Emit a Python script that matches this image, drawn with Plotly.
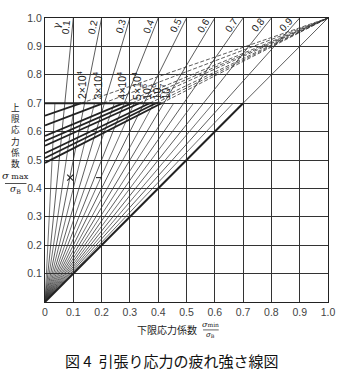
import math
import plotly.graph_objects as go

# ---------------- data ----------------
gamma_main = [0.1, 0.2, 0.3, 0.4, 0.5, 0.6, 0.7, 0.8, 0.9]
gamma_labels = ["0.1", "0.2", "0.3", "0.4", "0.5", "0.6", "0.7", "0.8", "0.9"]
gamma_mid = [0.05, 0.15, 0.25, 0.35, 0.45, 0.55, 0.65, 0.75, 0.85, 0.95]

life_labels = ["2×10<sup>4</sup>", "3×10<sup>4</sup>", "4×10<sup>4</sup>", "5×10<sup>4</sup>",
               "10<sup>5</sup>", "10<sup>6</sup>", "10<sup>7</sup>", ""]
life_intercepts = [0.656, 0.622, 0.585, 0.567, 0.550, 0.524, 0.507, 0.490]
yield_limit = 0.7

mark_x = [0.089]
mark_y = [0.438]
dash_mark_x = [0.19]
dash_mark_y = [0.438]

x_ticks = [0, 0.1, 0.2, 0.3, 0.4, 0.5, 0.6, 0.7, 0.8, 0.9, 1.0]
x_tick_text = ["0", "0.1", "0.2", "0.3", "0.4", "0.5", "0.6", "0.7", "0.8", "0.9", "1.0"]
y_ticks = [0.1, 0.2, 0.3, 0.4, 0.5, 0.6, 0.7, 0.8, 0.9, 1.0]
y_tick_text = ["0.1", "0.2", "0.3", "0.4", "0.5", "0.6", "0.7", "0.8", "0.9", "1.0"]

# label positions (layout only)
life_label_x = [0.129, 0.184, 0.269, 0.323, 0.358, 0.392, 0.424, None]

# ---------------- layout helpers ----------------
L, T, PW, PH = 45, 12, 290, 290
def px(xp):
    return (xp - L) / PW
def py(yp):
    return (T + PH - yp) / PH

INK = "#222222"
THIN = "#333333"
fig = go.Figure()

def line(xs, ys, width=0.8, color=THIN, dash="solid"):
    fig.add_trace(go.Scatter(x=xs, y=ys, mode="lines", hoverinfo="skip",
                             line=dict(color=color, width=width, dash=dash),
                             showlegend=False))

# rays sigma_min / sigma_max = gamma
for g in gamma_main:
    line([0, g], [0, 1.0], 0.8)
for g in gamma_mid:
    line([0, g * yield_limit], [0, yield_limit], 0.7)
# gamma = 1 diagonal
line([0, 1.0], [0, 1.0], 0.8)
line([0, yield_limit], [0, yield_limit], 2.0, INK)

# fatigue lines (solid up to yield limit, dashed to (1,1))
x_ends = []
for a in life_intercepts:
    xe = (yield_limit - a) / (1.0 - a)
    x_ends.append(xe)
    line([0, xe], [a, yield_limit], 1.8, INK)
    line([xe, 1.0], [yield_limit, 1.0], 0.8, THIN, "4px,2px")
line([0, max(x_ends)], [yield_limit, yield_limit], 2.0, INK)

# markers
fig.add_trace(go.Scatter(x=mark_x, y=mark_y, mode="markers", hoverinfo="skip", showlegend=False,
                         marker=dict(symbol="x-thin", size=6, line=dict(color=INK, width=1.1))))
fig.add_trace(go.Scatter(x=dash_mark_x, y=dash_mark_y, mode="markers", hoverinfo="skip", showlegend=False,
                         marker=dict(symbol="line-ew", size=4, line=dict(color=INK, width=1.1))))

ann = []
# gamma labels
for g, t in zip(gamma_main, gamma_labels):
    th = math.atan2(1.0, g)
    ann.append(dict(x=0.965 * g, y=0.965, xref="x", yref="y", text=t, showarrow=False,
                    textangle=-math.degrees(th), xshift=-6.5 * math.sin(th), yshift=5 * math.cos(th),
                    font=dict(size=10, color=INK, family="Liberation Sans, Arial")))
ann.append(dict(x=0.04, y=0.975, xref="x", yref="y", text="γ", showarrow=False, textangle=-75,
                font=dict(size=10, color=INK, family="DejaVu Serif")))

# life labels
for lx, t in zip(life_label_x, life_labels):
    if lx is None or not t:
        continue
    ann.append(dict(x=lx, y=yield_limit + 0.006, xref="x", yref="y", text=t, showarrow=False,
                    textangle=-90, yanchor="bottom", xanchor="center",
                    font=dict(size=10.5, color=INK, family="Liberation Sans, Arial")))

# y-axis title (vertical, one character per line)
ann.append(dict(x=px(15), y=py(131.5), xref="paper", yref="paper",
                text="<br>".join("上限応力係数"), showarrow=False,
                xanchor="center", yanchor="middle",
                font=dict(size=8.6, color=INK, family="Noto Sans CJK JP")))
ann.append(dict(x=px(15), y=py(173), xref="paper", yref="paper",
                text="<i>σ</i><span style='font-size:8px'> max</span>", showarrow=False,
                xanchor="center", yanchor="middle", font=dict(size=10, color=INK, family="DejaVu Serif")))
ann.append(dict(x=px(15), y=py(187), xref="paper", yref="paper",
                text="<i>σ</i><sub>B</sub>", showarrow=False,
                xanchor="center", yanchor="middle", font=dict(size=9, color=INK, family="DejaVu Serif")))

# x-axis title
ann.append(dict(x=px(170), y=py(330), xref="paper", yref="paper", text="下限応力係数",
                showarrow=False, xanchor="center", yanchor="middle",
                font=dict(size=10, color=INK, family="Noto Sans CJK JP")))
ann.append(dict(x=px(215), y=py(325), xref="paper", yref="paper",
                text="<i>σ</i><span style='font-size:6px'>min</span>", showarrow=False,
                xanchor="center", yanchor="middle", font=dict(size=8, color=INK, family="DejaVu Serif")))
ann.append(dict(x=px(215), y=py(336), xref="paper", yref="paper",
                text="<i>σ</i><sub>B</sub>", showarrow=False,
                xanchor="center", yanchor="middle", font=dict(size=7, color=INK, family="DejaVu Serif")))

# caption
ann.append(dict(x=px(175), y=py(362), xref="paper", yref="paper",
                text="図 4  引張り応力の疲れ強さ線図", showarrow=False, xanchor="center", yanchor="middle",
                font=dict(size=15, color="#111", family="Noto Sans CJK JP")))

shapes = [
    dict(type="line", xref="paper", yref="paper", x0=px(4), x1=px(26),
         y0=py(181), y1=py(181), line=dict(color=INK, width=0.8)),
    dict(type="line", xref="paper", yref="paper", x0=px(207), x1=px(223),
         y0=py(330.5), y1=py(330.5), line=dict(color=INK, width=0.7)),
]

axis_common = dict(range=[0, 1], showgrid=True, gridcolor=THIN, gridwidth=0.8, zeroline=False,
                   showline=True, linecolor=INK, linewidth=1.2, mirror=True, ticks="",
                   tickfont=dict(size=10.5, color="#444", family="Liberation Sans, Arial"),
                   fixedrange=True)

fig.update_layout(
    width=347, height=376,
    margin=dict(l=L, r=347 - L - PW, t=T, b=376 - T - PH),
    paper_bgcolor="white", plot_bgcolor="white",
    xaxis=dict(tickvals=x_ticks, ticktext=x_tick_text, **axis_common),
    yaxis=dict(tickvals=y_ticks, ticktext=y_tick_text, **axis_common),
    annotations=ann, shapes=shapes, showlegend=False,
)

fig.write_html("out.html")
